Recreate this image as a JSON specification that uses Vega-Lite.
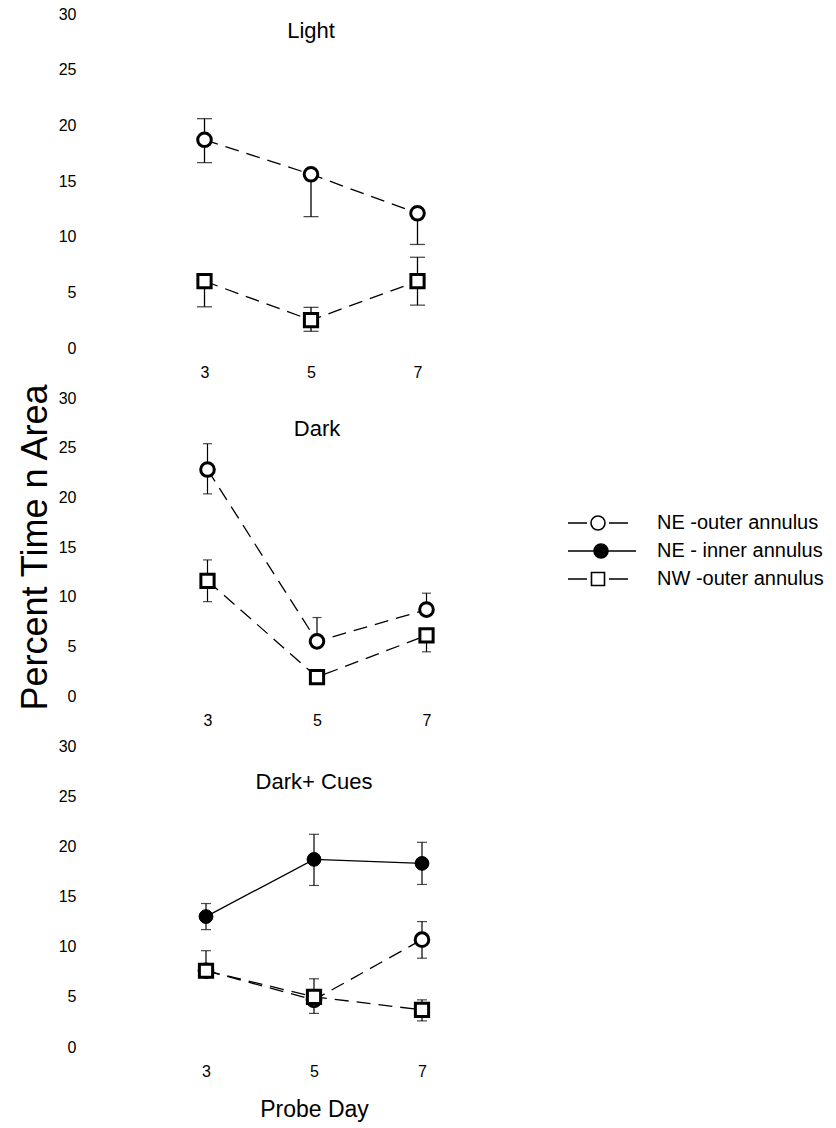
{
  "$schema": "https://vega.github.io/schema/vega-lite/v6.json",
  "background": "white",
  "padding": {"left": 17, "top": 6, "right": 300, "bottom": 5},
  "spacing": 50,
  "bounds": "flush",
  "config": {
    "font": "Liberation Sans",
    "view": {"stroke": null},
    "axis": {"domain": false, "ticks": false, "grid": false, "labelColor": "black", "labelFontSize": 16, "labelFont": "Liberation Sans", "titleColor": "black", "titleFontWeight": "normal", "titleFont": "Liberation Sans"},
    "title": {"fontSize": 22, "fontWeight": "normal", "color": "black", "font": "Liberation Sans", "baseline": "alphabetic"}
  },
  "datasets": {
    "probe": [
      {"cond": "Light", "series": "NE -outer annulus", "day": 3, "v": 18.7, "lo": 16.65, "hi": 20.6},
      {"cond": "Light", "series": "NE -outer annulus", "day": 5, "v": 15.6, "lo": 11.8, "hi": 15.6},
      {"cond": "Light", "series": "NE -outer annulus", "day": 7, "v": 12.1, "lo": 9.3, "hi": 12.1},
      {"cond": "Light", "series": "NW -outer annulus", "day": 3, "v": 6.0, "lo": 3.7, "hi": 6.0},
      {"cond": "Light", "series": "NW -outer annulus", "day": 5, "v": 2.5, "lo": 1.5, "hi": 3.65},
      {"cond": "Light", "series": "NW -outer annulus", "day": 7, "v": 6.0, "lo": 3.85, "hi": 8.15},
      {"cond": "Dark", "series": "NE -outer annulus", "day": 3, "v": 22.8, "lo": 20.35, "hi": 25.4},
      {"cond": "Dark", "series": "NE -outer annulus", "day": 5, "v": 5.5, "lo": 5.5, "hi": 7.9},
      {"cond": "Dark", "series": "NE -outer annulus", "day": 7, "v": 8.7, "lo": 8.7, "hi": 10.35},
      {"cond": "Dark", "series": "NW -outer annulus", "day": 3, "v": 11.6, "lo": 9.5, "hi": 13.7},
      {"cond": "Dark", "series": "NW -outer annulus", "day": 5, "v": 1.9, "lo": 1.9, "hi": 1.9},
      {"cond": "Dark", "series": "NW -outer annulus", "day": 7, "v": 6.1, "lo": 4.45, "hi": 6.1},
      {"cond": "Dark+ Cues", "series": "NE - inner annulus", "day": 3, "v": 13.0, "lo": 11.7, "hi": 14.3},
      {"cond": "Dark+ Cues", "series": "NE - inner annulus", "day": 5, "v": 18.7, "lo": 16.1, "hi": 21.2},
      {"cond": "Dark+ Cues", "series": "NE - inner annulus", "day": 7, "v": 18.3, "lo": 16.2, "hi": 20.4},
      {"cond": "Dark+ Cues", "series": "NE -outer annulus", "day": 3, "v": 7.6, "lo": 7.6, "hi": 9.6},
      {"cond": "Dark+ Cues", "series": "NE -outer annulus", "day": 5, "v": 4.7, "lo": 3.35, "hi": 6.8},
      {"cond": "Dark+ Cues", "series": "NE -outer annulus", "day": 7, "v": 10.7, "lo": 8.85, "hi": 12.5},
      {"cond": "Dark+ Cues", "series": "NW -outer annulus", "day": 3, "v": 7.6, "lo": 7.6, "hi": 7.6},
      {"cond": "Dark+ Cues", "series": "NW -outer annulus", "day": 5, "v": 5.0, "lo": 5.0, "hi": 5.0},
      {"cond": "Dark+ Cues", "series": "NW -outer annulus", "day": 7, "v": 3.7, "lo": 2.6, "hi": 4.7}
    ]
  },
  "vconcat": [
    {
      "width": 426, "height": 334,
      "title": {"text": "Light", "offset": -37},
      "data": {"name": "probe"},
      "transform": [{"filter": "datum.cond === 'Light'"}],
      "encoding": {
        "x": {"field": "day", "type": "quantitative", "scale": {"domain": [1, 9]}, "axis": {"values": [3, 5, 7], "title": null, "labelPadding": 16}}
      },
      "layer": [
        {"transform": [{"filter": "datum.series !== 'NE - inner annulus'"}],
         "mark": {"type": "line", "color": "black", "strokeWidth": 1.3, "strokeDash": [14, 8]},
         "encoding": {"y": {"field": "v", "type": "quantitative", "title": null, "scale": {"domain": [0, 30]}, "axis": {"values": [0, 5, 10, 15, 20, 25, 30], "labelPadding": 22}},
           "detail": {"field": "series"}}},
        {"mark": {"type": "rule", "color": "black", "strokeWidth": 1.3},
         "encoding": {"y": {"field": "lo", "type": "quantitative", "title": null}, "y2": {"field": "hi"}}},
        {"transform": [{"filter": "datum.lo < datum.v"}],
         "mark": {"type": "tick", "orient": "horizontal", "color": "black", "size": 15, "thickness": 1.3},
         "encoding": {"y": {"field": "lo", "type": "quantitative", "title": null}}},
        {"transform": [{"filter": "datum.hi > datum.v"}],
         "mark": {"type": "tick", "orient": "horizontal", "color": "black", "size": 15, "thickness": 1.3},
         "encoding": {"y": {"field": "hi", "type": "quantitative", "title": null}}},
        {"transform": [{"filter": "datum.series === 'NE -outer annulus'"}],
         "mark": {"type": "point", "shape": "circle", "filled": true, "fill": "white", "stroke": "black", "strokeWidth": 3, "size": 185, "opacity": 1},
         "encoding": {"y": {"field": "v", "type": "quantitative", "title": null}}},
        {"transform": [{"filter": "datum.series === 'NW -outer annulus'"}],
         "mark": {"type": "point", "shape": "square", "filled": true, "fill": "white", "stroke": "black", "strokeWidth": 3, "size": 175, "opacity": 1},
         "encoding": {"y": {"field": "v", "type": "quantitative", "title": null}}}
      ]
    },
    {
      "width": 438, "height": 298,
      "title": {"text": "Dark", "offset": -58},
      "data": {"name": "probe"},
      "transform": [{"filter": "datum.cond === 'Dark'"}],
      "encoding": {
        "x": {"field": "day", "type": "quantitative", "scale": {"domain": [1, 9]}, "axis": {"values": [3, 5, 7], "title": null, "labelPadding": 16}}
      },
      "layer": [
        {"transform": [{"filter": "datum.series !== 'NE - inner annulus'"}],
         "mark": {"type": "line", "color": "black", "strokeWidth": 1.3, "strokeDash": [14, 8]},
         "encoding": {"y": {"field": "v", "type": "quantitative", "title": "Percent Time n Area", "scale": {"domain": [0, 30]}, "axis": {"values": [0, 5, 10, 15, 20, 25, 30], "labelPadding": 22, "titleFontSize": 36, "titlePadding": 4}},
           "detail": {"field": "series"}}},
        {"mark": {"type": "rule", "color": "black", "strokeWidth": 1.2},
         "encoding": {"y": {"field": "lo", "type": "quantitative", "title": "Percent Time n Area"}, "y2": {"field": "hi"}}},
        {"transform": [{"filter": "datum.lo < datum.v"}],
         "mark": {"type": "tick", "orient": "horizontal", "color": "black", "size": 9, "thickness": 1.2},
         "encoding": {"y": {"field": "lo", "type": "quantitative", "title": "Percent Time n Area"}}},
        {"transform": [{"filter": "datum.hi > datum.v"}],
         "mark": {"type": "tick", "orient": "horizontal", "color": "black", "size": 9, "thickness": 1.2},
         "encoding": {"y": {"field": "hi", "type": "quantitative", "title": "Percent Time n Area"}}},
        {"transform": [{"filter": "datum.series === 'NE -outer annulus'"}],
         "mark": {"type": "point", "shape": "circle", "filled": true, "fill": "white", "stroke": "black", "strokeWidth": 3, "size": 185, "opacity": 1},
         "encoding": {"y": {"field": "v", "type": "quantitative", "title": "Percent Time n Area"}}},
        {"transform": [{"filter": "datum.series === 'NW -outer annulus'"}],
         "mark": {"type": "point", "shape": "square", "filled": true, "fill": "white", "stroke": "black", "strokeWidth": 3, "size": 175, "opacity": 1},
         "encoding": {"y": {"field": "v", "type": "quantitative", "title": "Percent Time n Area"}}},
        {"mark": {"type": "point", "filled": false, "color": "black", "strokeWidth": 1.6, "opacity": 0},
         "encoding": {
           "y": {"field": "v", "type": "quantitative", "title": "Percent Time n Area"},
           "shape": {"field": "series", "type": "nominal",
             "scale": {"domain": ["NE -outer annulus", "NE - inner annulus", "NW -outer annulus"],
               "range": ["M-3,0H-1.1M-0.7,0A0.7,0.7 0 1,1 0.7,0A0.7,0.7 0 1,1 -0.7,0ZM1.1,0H3", "M-3,0H3.8M-0.4,0A0.7,0.7 0 1,1 1,0A0.7,0.7 0 1,1 -0.4,0ZM-0.3,0A0.6,0.6 0 1,1 0.9,0A0.6,0.6 0 1,1 -0.3,0ZM-0.2,0A0.5,0.5 0 1,1 0.8,0A0.5,0.5 0 1,1 -0.2,0ZM-0.1,0A0.4,0.4 0 1,1 0.7,0A0.4,0.4 0 1,1 -0.1,0ZM0,0A0.3,0.3 0 1,1 0.6,0A0.3,0.3 0 1,1 0,0ZM0.1,0A0.2,0.2 0 1,1 0.5,0A0.2,0.2 0 1,1 0.1,0ZM0.2,0A0.1,0.1 0 1,1 0.4,0A0.1,0.1 0 1,1 0.2,0Z", "M-3,0H-1.1M-0.65,-0.65H0.65V0.65H-0.65ZM1.1,0H3"]},
             "legend": {"title": null, "orient": "none", "legendX": 489, "legendY": 498, "symbolSize": 400, "symbolStrokeWidth": 1.6, "symbolStrokeColor": "black", "labelFontSize": 20, "labelLimit": 0, "labelFont": "Liberation Sans", "labelColor": "black", "labelOffset": 48, "rowPadding": 6, "padding": 0, "symbolOpacity": 1,
               "encode": {"symbols": {
                 "fill": {"value": "white"},
                 "stroke": {"value": "black"},
                 "strokeWidth": {"value": 1.6},
                 "opacity": {"value": 1}}}}}
         }}
      ]
    },
    {
      "width": 432, "height": 301,
      "title": {"text": "Dark+ Cues", "offset": -56},
      "data": {"name": "probe"},
      "transform": [{"filter": "datum.cond === 'Dark+ Cues'"}],
      "encoding": {
        "x": {"field": "day", "type": "quantitative", "scale": {"domain": [1, 9]}, "axis": {"values": [3, 5, 7], "title": "Probe Day", "labelPadding": 16, "titleFontSize": 23, "titlePadding": 19}}
      },
      "layer": [
        {"transform": [{"filter": "datum.series !== 'NE - inner annulus'"}],
         "mark": {"type": "line", "color": "black", "strokeWidth": 1.3, "strokeDash": [14, 8]},
         "encoding": {"y": {"field": "v", "type": "quantitative", "title": null, "scale": {"domain": [0, 30]}, "axis": {"values": [0, 5, 10, 15, 20, 25, 30], "labelPadding": 22}},
           "detail": {"field": "series"}}},
        {"transform": [{"filter": "datum.series === 'NE - inner annulus'"}],
         "mark": {"type": "line", "color": "black", "strokeWidth": 1.3},
         "encoding": {"y": {"field": "v", "type": "quantitative", "title": null}}},
        {"mark": {"type": "rule", "color": "black", "strokeWidth": 1.2},
         "encoding": {"y": {"field": "lo", "type": "quantitative", "title": null}, "y2": {"field": "hi"}}},
        {"transform": [{"filter": "datum.lo < datum.v"}],
         "mark": {"type": "tick", "orient": "horizontal", "color": "black", "size": 10, "thickness": 1.2},
         "encoding": {"y": {"field": "lo", "type": "quantitative", "title": null}}},
        {"transform": [{"filter": "datum.hi > datum.v"}],
         "mark": {"type": "tick", "orient": "horizontal", "color": "black", "size": 10, "thickness": 1.2},
         "encoding": {"y": {"field": "hi", "type": "quantitative", "title": null}}},
        {"transform": [{"filter": "datum.series === 'NE - inner annulus'"}],
         "mark": {"type": "point", "shape": "circle", "filled": true, "fill": "black", "stroke": "black", "strokeWidth": 1, "size": 190, "opacity": 1},
         "encoding": {"y": {"field": "v", "type": "quantitative", "title": null}}},
        {"transform": [{"filter": "datum.series === 'NE -outer annulus'"}],
         "mark": {"type": "point", "shape": "circle", "filled": true, "fill": "white", "stroke": "black", "strokeWidth": 3, "size": 185, "opacity": 1},
         "encoding": {"y": {"field": "v", "type": "quantitative", "title": null}}},
        {"transform": [{"filter": "datum.series === 'NW -outer annulus'"}],
         "mark": {"type": "point", "shape": "square", "filled": true, "fill": "white", "stroke": "black", "strokeWidth": 3, "size": 175, "opacity": 1},
         "encoding": {"y": {"field": "v", "type": "quantitative", "title": null}}}
      ]
    }
  ]
}
